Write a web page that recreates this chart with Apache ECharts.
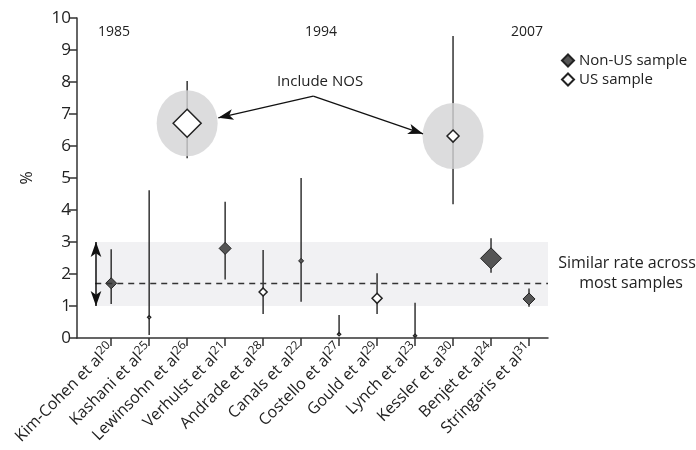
<!DOCTYPE html>
<html>
<head>
<meta charset="utf-8">
<script src="https://cdn.jsdelivr.net/npm/echarts@6/dist/echarts.min.js"></script>
<style>
  html, body { margin: 0; padding: 0; background: #fff; }
  #chart { width: 696px; height: 450px; }
</style>
</head>
<body>
<div id="chart"></div>
<script>
// study names and reference numbers (x axis)
var studies = ['Kim-Cohen et al', 'Kashani et al', 'Lewinsohn et al', 'Verhulst et al', 'Andrade et al', 'Canals et al',
  'Costello et al', 'Gould et al', 'Lynch et al', 'Kessler et al', 'Benjet et al', 'Stringaris et al']
var refs = ['20', '25', '26', '21', '28', '22', '27', '29', '23', '30', '24', '31']
// rate (%) with interval
var estimate = [1.71, 0.65, 6.71, 2.80, 1.44, 2.41, 0.12, 1.24, 0.07, 6.31, 2.49, 1.22]
var lower = [1.06, 0.09, 5.62, 1.83, 0.75, 1.13, 0.12, 0.75, 0.07, 4.18, 2.04, 0.98]
var upper = [2.77, 4.62, 8.03, 4.26, 2.75, 5.00, 0.72, 2.02, 1.10, 9.44, 3.12, 1.55]
var sample = ['non-US', 'US', 'US', 'non-US', 'US', 'non-US', 'US', 'US', 'US', 'US', 'non-US', 'non-US']
var weight = [5.5, 1.5, 14, 6, 4, 2.5, 1.5, 5, 1.5, 6, 10.5, 6]
var includeNOS = [2, 9]
var years = ['1985', '1994', '2007']
var meanRate = 1.7

var chart = echarts.init(document.getElementById('chart'))
var idx = studies.map(function (s, i) { return i })
var font = '"Open Sans", "Noto Sans", sans-serif'

function points(kind) {
  return idx.filter(function (i) { return sample[i] === kind }).map(function (i) {
    return { value: [i, estimate[i]], symbolSize: [weight[i] * 2, weight[i] * 2] }
  })
}

function text(x, y, str, size) {
  return { type: 'text', x: x, y: y, style: { text: str, fontSize: size, fontFamily: font, fill: '#222', align: 'center', verticalAlign: 'middle' } }
}

chart.setOption({
  animation: false,
  grid: { left: 77, right: 148, top: 18, bottom: 112 },
  legend: {
    data: ['Non-US sample', 'US sample'],
    orient: 'vertical',
    left: 556,
    top: 48,
    icon: 'diamond',
    itemWidth: 12,
    itemHeight: 12,
    itemGap: 4,
    textStyle: { fontSize: 15, color: '#222', fontFamily: font }
  },
  xAxis: {
    type: 'value',
    min: -0.9,
    max: 11.5,
    splitLine: { show: false },
    axisLine: { onZero: false, lineStyle: { color: '#333', width: 1.5 } },
    axisTick: { show: true, customValues: idx, length: 8, lineStyle: { color: '#333', width: 1.5 } },
    axisLabel: {
      customValues: idx,
      rotate: 45,
      margin: 8,
      formatter: function (v) {
        return '{n|' + studies[v] + '}{s|' + refs[v] + '}'
      },
      rich: {
        n: { fontSize: 16, color: '#222', fontFamily: font, lineHeight: 20 },
        s: { fontSize: 12, color: '#222', fontFamily: font, lineHeight: 12, verticalAlign: 'top' }
      }
    }
  },
  yAxis: {
    type: 'value',
    min: 0,
    max: 10,
    interval: 1,
    name: '%',
    nameLocation: 'middle',
    nameGap: 42,
    nameTextStyle: { fontSize: 16, color: '#222', fontFamily: font },
    splitLine: { show: false },
    axisLine: { show: true, onZero: false, lineStyle: { color: '#333', width: 1.5 } },
    axisTick: { show: true, length: 8, lineStyle: { color: '#333', width: 1.5 } },
    axisLabel: { fontSize: 17, color: '#222', fontFamily: font, margin: 6 }
  },
  graphic: [
    text(114, 32, years[0], 14),
    text(321, 32, years[1], 14),
    text(527, 32, years[2], 14),
    text(320, 82, 'Include NOS', 15),
    text(450, 274, '1.8% mean', 14),
    text(450, 293, '(random effect)', 14),
    text(627, 263, 'Similar rate across', 16),
    text(631, 283, 'most samples', 16)
  ],
  series: [
    {
      name: 'nos',
      type: 'scatter',
      symbol: 'circle',
      symbolSize: [61, 66],
      itemStyle: { color: '#d3d3d5' },
      data: includeNOS.map(function (i) { return [i, estimate[i]] }),
      markLine: {
        silent: true,
        symbol: ['none', 'arrow'],
        symbolSize: [8, 15],
        label: { show: false },
        lineStyle: { color: '#111', width: 1.3, type: 'solid' },
        data: [
          [{ coord: [5.32, 7.56] }, { coord: [2.82, 6.88] }],
          [{ coord: [5.32, 7.56] }, { coord: [8.21, 6.38] }]
        ]
      }
    },
    {
      name: 'ci',
      type: 'custom',
      data: idx.map(function (i) { return [i, lower[i], upper[i]] }),
      renderItem: function (params, api) {
        var a = api.coord([api.value(0), api.value(1)])
        var b = api.coord([api.value(0), api.value(2)])
        return {
          type: 'line',
          shape: { x1: a[0], y1: a[1], x2: b[0], y2: b[1] },
          style: { stroke: '#333', lineWidth: 1.5 }
        }
      },
      markArea: {
        silent: true,
        itemStyle: { color: '#f1f1f3' },
        data: [[{ coord: [-0.42, 1] }, { coord: [11.5, 3] }]]
      },
      markLine: {
        silent: true,
        symbol: ['none', 'none'],
        label: { show: false },
        lineStyle: { color: '#333', width: 1.3, type: [6, 5] },
        data: [[{ coord: [-0.42, meanRate] }, { coord: [11.5, meanRate] }]]
      }
    },
    {
      name: 'Non-US sample',
      type: 'scatter',
      symbol: 'diamond',
      itemStyle: { color: '#555', borderColor: '#222', borderWidth: 1, opacity: 1 },
      data: points('non-US'),
      markLine: {
        silent: true,
        symbol: ['arrow', 'arrow'],
        symbolSize: [8, 15],
        label: { show: false },
        lineStyle: { color: '#111', width: 1.5, type: 'solid' },
        data: [[{ coord: [-0.4, 3] }, { coord: [-0.4, 1] }]]
      }
    },
    {
      name: 'US sample',
      type: 'scatter',
      symbol: 'diamond',
      itemStyle: { color: '#fff', borderColor: '#222', borderWidth: 1.5, opacity: 1 },
      data: points('US')
    }
  ]
})
</script>
</body>
</html>
